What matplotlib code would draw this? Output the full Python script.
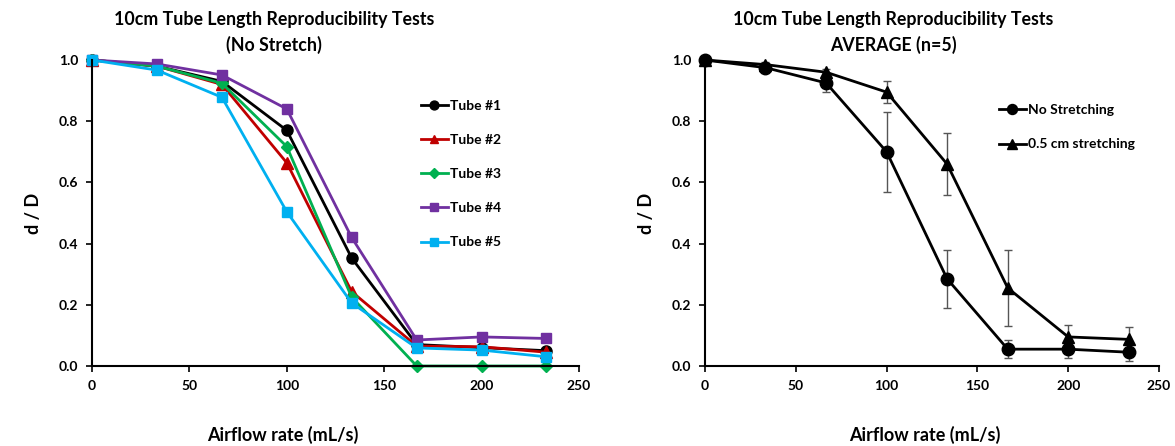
import matplotlib
matplotlib.use("Agg")
import matplotlib.pyplot as plt
from matplotlib.lines import Line2D

plt.rcParams['font.family'] = ['Lato', 'DejaVu Sans']

x = [0, 33.3, 66.7, 100, 133.3, 166.7, 200, 233.3]

tube1 = [1.0, 0.98, 0.93, 0.77, 0.353, 0.07, 0.06, 0.05]
tube2 = [1.0, 0.98, 0.92, 0.664, 0.243, 0.065, 0.063, 0.045]
tube3 = [1.0, 0.98, 0.924, 0.717, 0.225, 0.0, 0.0, 0.0]
tube4 = [1.0, 0.987, 0.951, 0.84, 0.42, 0.085, 0.095, 0.09]
tube5 = [1.0, 0.967, 0.878, 0.504, 0.206, 0.059, 0.052, 0.03]

no_stretch = [1.0, 0.975, 0.925, 0.70, 0.285, 0.055, 0.055, 0.045]
no_stretch_err = [0.0, 0.01, 0.03, 0.13, 0.095, 0.03, 0.03, 0.03]
stretch = [1.0, 0.985, 0.96, 0.895, 0.66, 0.255, 0.095, 0.087]
stretch_err = [0.0, 0.01, 0.01, 0.035, 0.10, 0.125, 0.04, 0.04]

xticks = [0, 50, 100, 150, 200, 250]
yticks = [0.0, 0.2, 0.4, 0.6, 0.8, 1.0]

fig = plt.figure(figsize=(11.75, 4.46), dpi=100)
W, H = 1175, 446
axL = fig.add_axes([92 / W, 1 - 366 / H, (579 - 92) / W, (366 - 60) / H])
axR = fig.add_axes([705 / W, 1 - 366 / H, (1159 - 705) / W, (366 - 60) / H])

series = [
    (tube1, 'Tube #1', '#000000', 'o', 8),
    (tube2, 'Tube #2', '#C00000', '^', 8),
    (tube3, 'Tube #3', '#00B050', 'D', 6),
    (tube4, 'Tube #4', '#7030A0', 's', 7.5),
    (tube5, 'Tube #5', '#00B0F0', 's', 7.5),
]
for vals, lab, col, mk, ms in series:
    axL.plot(x, vals, color=col, marker=mk, markersize=ms, linewidth=2, label=lab, clip_on=False)

axR.errorbar(x, no_stretch, yerr=no_stretch_err, color='black', marker='o', markersize=9,
             linewidth=2, ecolor='#555555', elinewidth=1, capsize=3, clip_on=False)
axR.errorbar(x, stretch, yerr=stretch_err, color='black', marker='^', markersize=9,
             linewidth=2, ecolor='#555555', elinewidth=1, capsize=3, clip_on=False)
handlesR = [Line2D([], [], color='black', marker='o', markersize=9, linewidth=2),
            Line2D([], [], color='black', marker='^', markersize=9, linewidth=2)]
labelsR = ['No Stretching', '0.5 cm stretching']

for ax in (axL, axR):
    ax.set_xlim(0, 250)
    ax.set_ylim(0, 1.0)
    ax.set_xticks(xticks)
    ax.set_yticks(yticks)
    ax.set_yticklabels([f"{v:.1f}" for v in yticks])
    for s in ('top', 'right'):
        ax.spines[s].set_visible(False)
    for s in ('left', 'bottom'):
        ax.spines[s].set_linewidth(1.5)
        ax.spines[s].set_color('black')
    ax.tick_params(direction='out', length=4, width=1.2, labelsize=10, pad=6)
    for lbl in ax.get_xticklabels() + ax.get_yticklabels():
        lbl.set_fontweight('bold')
    ax.set_ylabel('d / D', fontsize=13, fontweight='bold', labelpad=12)

fig.text(283 / W, 1 - 435 / H, 'Airflow rate (mL/s)', ha='center', va='center',
         fontsize=13, fontweight='bold')
fig.text(925 / W, 1 - 435 / H, 'Airflow rate (mL/s)', ha='center', va='center',
         fontsize=13, fontweight='bold')

fig.text(274 / W, 1 - 19 / H, '10cm Tube Length Reproducibility Tests', ha='center', va='center',
         fontsize=12.8, fontweight='bold')
fig.text(274 / W, 1 - 45 / H, '(No Stretch)', ha='center', va='center', fontsize=12.8, fontweight='bold')
fig.text(893 / W, 1 - 19 / H, '10cm Tube Length Reproducibility Tests', ha='center', va='center',
         fontsize=12.8, fontweight='bold')
fig.text(893 / W, 1 - 45 / H, 'AVERAGE (n=5)', ha='center', va='center', fontsize=12.8, fontweight='bold')

legL = axL.legend(loc='upper left', bbox_to_anchor=((415 - 92) / 487, (366 - 94) / 306),
                  frameon=False, fontsize=10, handlelength=2.0, handletextpad=0.1,
                  labelspacing=1.6, markerscale=0.8, borderaxespad=0)
legR = axR.legend(handlesR, labelsR, loc='upper left', bbox_to_anchor=((993 - 705) / 454, (366 - 98) / 306),
                  frameon=False, fontsize=10, handlelength=2.0, handletextpad=0.1,
                  labelspacing=1.65, markerscale=0.8, borderaxespad=0)
for t in legL.get_texts() + legR.get_texts():
    t.set_fontweight('bold')

fig.savefig('out.png', dpi=100)
